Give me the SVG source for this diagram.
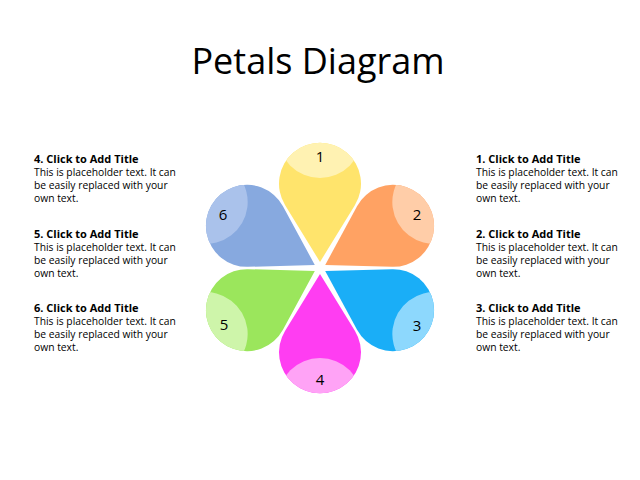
<svg xmlns="http://www.w3.org/2000/svg" width="640" height="480" viewBox="0 0 640 480">
<style>
text{font-family:"Open Sans","Liberation Sans",sans-serif;fill:#000}
.t{font-size:11px;font-weight:bold}
.b{font-size:10.3px}
.n{font-size:15px;text-anchor:middle}
</style>
<defs>
<path id="pet" d="M0,-6 L35,-63 A41,41 0 1 0 -35,-63 Z" stroke-linejoin="round"/>
<clipPath id="cp"><use href="#pet"/></clipPath>
</defs>
<rect width="640" height="480" fill="#fff"/>
<text x="318" y="74" font-size="36" text-anchor="middle">Petals Diagram</text>
<g transform="translate(320,268)">
<g id="petal1"><use href="#pet" fill="#FFE46C"/><circle cx="0" cy="-132" r="42" fill="#FFF2B2" clip-path="url(#cp)"/></g>
<g id="petal2" transform="rotate(60)"><use href="#pet" fill="#FFA263"/><circle cx="0" cy="-132" r="42" fill="#FFCDA8" clip-path="url(#cp)"/></g>
<g id="petal3" transform="rotate(120)"><use href="#pet" fill="#1AAEF7"/><circle cx="0" cy="-132" r="42" fill="#8DD8FD" clip-path="url(#cp)"/></g>
<g id="petal4" transform="rotate(180)"><use href="#pet" fill="#FF3DF2"/><circle cx="0" cy="-132" r="42" fill="#FFA3F6" clip-path="url(#cp)"/></g>
<g id="petal5" transform="rotate(240)"><use href="#pet" fill="#9BE65C"/><circle cx="0" cy="-132" r="42" fill="#CEF5AA" clip-path="url(#cp)"/></g>
<g id="petal6" transform="rotate(300)"><use href="#pet" fill="#87A9DF"/><circle cx="0" cy="-132" r="42" fill="#AAC2EB" clip-path="url(#cp)"/></g>
</g>
<g id="nums">
<text class="n" x="320" y="162">1</text>
<text class="n" x="417" y="220">2</text>
<text class="n" x="417" y="331">3</text>
<text class="n" x="320" y="385">4</text>
<text class="n" x="224" y="330">5</text>
<text class="n" x="223" y="220">6</text>
</g>
<g id="left">
<text class="t" x="34" y="163">4. Click to Add Title</text>
<text class="b" x="34" y="176">This is placeholder text.  It can</text>
<text class="b" x="34" y="189">be easily replaced with your</text>
<text class="b" x="34" y="202">own text.</text>
<text class="t" x="34" y="238">5. Click to Add Title</text>
<text class="b" x="34" y="251">This is placeholder text.  It can</text>
<text class="b" x="34" y="264">be easily replaced with your</text>
<text class="b" x="34" y="277">own text.</text>
<text class="t" x="34" y="312">6. Click to Add Title</text>
<text class="b" x="34" y="325">This is placeholder text.  It can</text>
<text class="b" x="34" y="338">be easily replaced with your</text>
<text class="b" x="34" y="351">own text.</text>
</g>
<g id="right">
<text class="t" x="476" y="163">1. Click to Add Title</text>
<text class="b" x="476" y="176">This is placeholder text.  It can</text>
<text class="b" x="476" y="189">be easily replaced with your</text>
<text class="b" x="476" y="202">own text.</text>
<text class="t" x="476" y="238">2. Click to Add Title</text>
<text class="b" x="476" y="251">This is placeholder text.  It can</text>
<text class="b" x="476" y="264">be easily replaced with your</text>
<text class="b" x="476" y="277">own text.</text>
<text class="t" x="476" y="312">3. Click to Add Title</text>
<text class="b" x="476" y="325">This is placeholder text.  It can</text>
<text class="b" x="476" y="338">be easily replaced with your</text>
<text class="b" x="476" y="351">own text.</text>
</g>
</svg>
